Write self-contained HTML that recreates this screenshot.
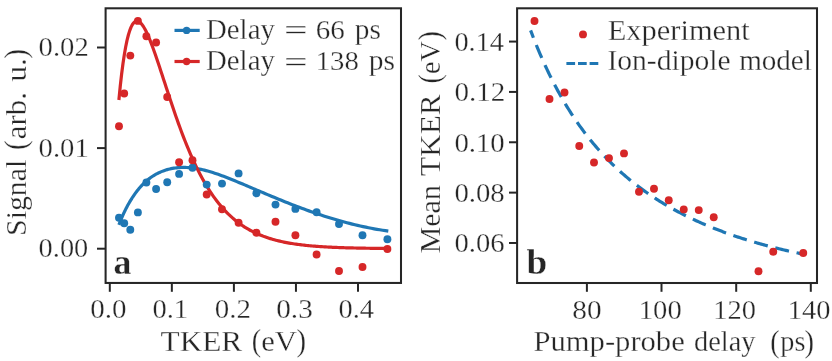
<!DOCTYPE html>
<html><head><meta charset="utf-8"><title>Figure</title>
<style>html,body{margin:0;padding:0;background:#fff}svg{display:block}text{font-family:"Liberation Serif",serif;fill:#262626;stroke:#fff;stroke-width:0.3px}</style>
</head><body>
<svg width="832" height="361" viewBox="0 0 832 361">
<rect width="832" height="361" fill="#ffffff"/>
<path d="M118.90,224.85 L119.43,223.46 L119.97,222.07 L120.52,220.68 L121.09,219.28 L121.68,217.89 L122.28,216.50 L122.89,215.12 L123.52,213.74 L124.17,212.36 L124.83,210.99 L125.50,209.62 L126.19,208.26 L126.89,206.91 L127.61,205.57 L128.35,204.24 L129.09,202.92 L129.86,201.61 L130.63,200.32 L131.43,199.04 L132.23,197.77 L133.05,196.52 L133.89,195.29 L134.74,194.08 L135.61,192.88 L136.49,191.70 L137.39,190.55 L138.30,189.41 L139.22,188.30 L140.16,187.21 L141.12,186.15 L142.09,185.11 L143.07,184.09 L144.07,183.11 L145.09,182.15 L146.11,181.22 L147.16,180.32 L148.22,179.45 L149.29,178.61 L150.38,177.80 L151.48,177.02 L152.60,176.27 L153.73,175.55 L154.88,174.86 L156.04,174.20 L157.22,173.58 L158.41,172.98 L159.61,172.41 L160.84,171.88 L162.07,171.37 L163.32,170.89 L164.59,170.45 L165.87,170.03 L167.16,169.65 L168.47,169.30 L169.80,168.97 L171.14,168.68 L172.49,168.42 L173.86,168.19 L175.24,167.99 L176.64,167.83 L178.06,167.69 L179.48,167.58 L180.93,167.51 L182.39,167.46 L183.86,167.45 L185.35,167.47 L186.85,167.52 L188.36,167.60 L189.90,167.72 L191.44,167.86 L193.00,168.03 L194.58,168.24 L196.17,168.48 L197.78,168.75 L199.40,169.05 L201.03,169.39 L202.68,169.75 L204.35,170.15 L206.03,170.58 L207.72,171.03 L209.43,171.52 L211.15,172.04 L212.89,172.58 L214.65,173.15 L216.41,173.74 L218.20,174.36 L219.99,175.00 L221.81,175.66 L223.63,176.34 L225.48,177.05 L227.33,177.77 L229.21,178.50 L231.09,179.26 L232.99,180.03 L234.91,180.81 L236.84,181.61 L238.79,182.41 L240.75,183.23 L242.72,184.06 L244.71,184.90 L246.72,185.75 L248.74,186.61 L250.77,187.47 L252.82,188.35 L254.88,189.22 L256.96,190.11 L259.06,191.00 L261.17,191.90 L263.29,192.80 L265.43,193.70 L267.58,194.61 L269.75,195.52 L271.93,196.43 L274.13,197.35 L276.34,198.27 L278.56,199.18 L280.81,200.10 L283.06,201.01 L285.33,201.93 L287.62,202.84 L289.92,203.75 L292.24,204.66 L294.57,205.56 L296.91,206.46 L299.27,207.35 L301.64,208.24 L304.03,209.12 L306.44,210.00 L308.86,210.87 L311.29,211.73 L313.74,212.59 L316.20,213.43 L318.68,214.27 L321.17,215.10 L323.68,215.92 L326.20,216.72 L328.74,217.52 L331.29,218.30 L333.86,219.07 L336.44,219.83 L339.04,220.58 L341.65,221.31 L344.27,222.03 L346.91,222.73 L349.57,223.42 L352.24,224.09 L354.93,224.74 L357.63,225.38 L360.34,226.00 L363.07,226.60 L365.81,227.18 L368.57,227.74 L371.35,228.29 L374.14,228.81 L376.94,229.31 L379.76,229.79 L382.59,230.25 L385.44,230.68 L388.30,231.10" fill="none" stroke="#1f77b4" stroke-width="3.2" stroke-linejoin="round"/>
<path d="M118.90,99.97 L120.25,86.24 L121.60,74.21 L122.96,63.73 L124.31,54.68 L125.66,46.95 L127.01,40.43 L128.37,35.01 L129.72,30.61 L131.07,27.14 L132.42,24.52 L133.77,22.68 L135.13,21.54 L136.48,21.04 L137.83,21.13 L139.18,21.74 L140.54,22.83 L141.89,24.34 L143.24,26.24 L144.59,28.48 L145.95,31.02 L147.30,33.84 L148.65,36.89 L150.00,40.15 L151.35,43.60 L152.71,47.20 L154.06,50.93 L155.41,54.77 L156.76,58.70 L158.12,62.71 L159.47,66.77 L160.82,70.88 L162.17,75.02 L163.52,79.17 L164.88,83.32 L166.23,87.48 L167.58,91.61 L168.93,95.73 L170.29,99.81 L171.64,103.86 L172.99,107.86 L174.34,111.82 L175.69,115.72 L177.05,119.57 L178.40,123.35 L179.75,127.07 L181.10,130.73 L182.46,134.31 L183.81,137.83 L185.16,141.27 L186.51,144.64 L187.87,147.94 L189.22,151.15 L190.57,154.30 L191.92,157.37 L193.27,160.36 L194.63,163.27 L195.98,166.12 L197.33,168.88 L198.68,171.57 L200.04,174.19 L201.39,176.74 L202.74,179.21 L204.09,181.61 L205.44,183.94 L206.80,186.21 L208.15,188.40 L209.50,190.54 L210.85,192.60 L212.21,194.60 L213.56,196.54 L214.91,198.42 L216.26,200.24 L217.62,202.00 L218.97,203.70 L220.32,205.35 L221.67,206.94 L223.02,208.48 L224.38,209.97 L225.73,211.41 L227.08,212.80 L228.43,214.15 L229.79,215.45 L231.14,216.70 L232.49,217.91 L233.84,219.07 L235.19,220.20 L236.55,221.29 L237.90,222.34 L239.25,223.35 L240.60,224.32 L241.96,225.26 L243.31,226.17 L244.66,227.04 L246.01,227.88 L247.36,228.69 L248.72,229.48 L250.07,230.23 L251.42,230.95 L252.77,231.65 L254.13,232.32 L255.48,232.97 L256.83,233.59 L258.18,234.19 L259.54,234.77 L260.89,235.32 L262.24,235.85 L263.59,236.37 L264.94,236.86 L266.30,237.33 L267.65,237.79 L269.00,238.23 L270.35,238.65 L271.71,239.06 L273.06,239.45 L274.41,239.82 L275.76,240.18 L277.11,240.53 L278.47,240.86 L279.82,241.18 L281.17,241.49 L282.52,241.78 L283.88,242.07 L285.23,242.34 L286.58,242.60 L287.93,242.85 L289.28,243.09 L290.64,243.32 L291.99,243.54 L293.34,243.76 L294.69,243.96 L296.05,244.16 L297.40,244.35 L298.75,244.53 L300.10,244.70 L301.46,244.87 L302.81,245.03 L304.16,245.18 L305.51,245.33 L306.86,245.47 L308.22,245.60 L309.57,245.73 L310.92,245.86 L312.27,245.98 L313.63,246.09 L314.98,246.20 L316.33,246.31 L317.68,246.41 L319.03,246.50 L320.39,246.60 L321.74,246.69 L323.09,246.77 L324.44,246.85 L325.80,246.93 L327.15,247.01 L328.50,247.08 L329.85,247.15 L331.21,247.21 L332.56,247.28 L333.91,247.34 L335.26,247.39 L336.61,247.45 L337.97,247.50 L339.32,247.55 L340.67,247.60 L342.02,247.65 L343.38,247.70 L344.73,247.74 L346.08,247.78 L347.43,247.82 L348.78,247.86 L350.14,247.89 L351.49,247.93 L352.84,247.96 L354.19,247.99 L355.55,248.02 L356.90,248.05 L358.25,248.08 L359.60,248.11 L360.95,248.13 L362.31,248.16 L363.66,248.18 L365.01,248.20 L366.36,248.23 L367.72,248.25 L369.07,248.27 L370.42,248.28 L371.77,248.30 L373.13,248.32 L374.48,248.34 L375.83,248.35 L377.18,248.37 L378.53,248.38 L379.89,248.40 L381.24,248.41 L382.59,248.42 L383.94,248.43 L385.30,248.45 L386.65,248.46 L388.00,248.47" fill="none" stroke="#d62728" stroke-width="3.2" stroke-linejoin="round"/>
<circle cx="119" cy="217.70" r="3.95" fill="#1f77b4"/>
<circle cx="124.2" cy="223.30" r="3.95" fill="#1f77b4"/>
<circle cx="130.3" cy="229.80" r="3.95" fill="#1f77b4"/>
<circle cx="137.9" cy="212.40" r="3.95" fill="#1f77b4"/>
<circle cx="146.4" cy="182.50" r="3.95" fill="#1f77b4"/>
<circle cx="156.1" cy="189.05" r="3.95" fill="#1f77b4"/>
<circle cx="167.2" cy="182.30" r="3.95" fill="#1f77b4"/>
<circle cx="179.1" cy="173.90" r="3.95" fill="#1f77b4"/>
<circle cx="192.5" cy="167.80" r="3.95" fill="#1f77b4"/>
<circle cx="206.7" cy="184.60" r="3.95" fill="#1f77b4"/>
<circle cx="222" cy="183.60" r="3.95" fill="#1f77b4"/>
<circle cx="238.6" cy="173.40" r="3.95" fill="#1f77b4"/>
<circle cx="256.4" cy="193.30" r="3.95" fill="#1f77b4"/>
<circle cx="275.5" cy="204.60" r="3.95" fill="#1f77b4"/>
<circle cx="295.4" cy="208.90" r="3.95" fill="#1f77b4"/>
<circle cx="316.6" cy="212.30" r="3.95" fill="#1f77b4"/>
<circle cx="339" cy="224.00" r="3.95" fill="#1f77b4"/>
<circle cx="362.5" cy="235.30" r="3.95" fill="#1f77b4"/>
<circle cx="387.4" cy="239.30" r="3.95" fill="#1f77b4"/>
<circle cx="119" cy="126.30" r="3.95" fill="#d62728"/>
<circle cx="124.2" cy="93.50" r="3.95" fill="#d62728"/>
<circle cx="130.3" cy="55.60" r="3.95" fill="#d62728"/>
<circle cx="137.9" cy="20.90" r="3.95" fill="#d62728"/>
<circle cx="146.4" cy="36.20" r="3.95" fill="#d62728"/>
<circle cx="156.1" cy="42.50" r="3.95" fill="#d62728"/>
<circle cx="167.2" cy="97.00" r="3.95" fill="#d62728"/>
<circle cx="179.1" cy="162.30" r="3.95" fill="#d62728"/>
<circle cx="192.5" cy="160.30" r="3.95" fill="#d62728"/>
<circle cx="206.7" cy="194.55" r="3.95" fill="#d62728"/>
<circle cx="222" cy="209.30" r="3.95" fill="#d62728"/>
<circle cx="238.6" cy="222.80" r="3.95" fill="#d62728"/>
<circle cx="256.4" cy="232.70" r="3.95" fill="#d62728"/>
<circle cx="275.5" cy="221.80" r="3.95" fill="#d62728"/>
<circle cx="295.4" cy="235.30" r="3.95" fill="#d62728"/>
<circle cx="316.6" cy="254.55" r="3.95" fill="#d62728"/>
<circle cx="339" cy="271.05" r="3.95" fill="#d62728"/>
<circle cx="362.5" cy="267.05" r="3.95" fill="#d62728"/>
<circle cx="387.4" cy="249.05" r="3.95" fill="#d62728"/>
<rect x="105.6" y="8.3" width="295.40" height="274.65" fill="none" stroke="#262626" stroke-width="2.05"/>
<line x1="109.8" y1="282.95" x2="109.8" y2="291.8" stroke="#262626" stroke-width="2.0"/>
<line x1="171.85" y1="282.95" x2="171.85" y2="291.8" stroke="#262626" stroke-width="2.0"/>
<line x1="233.9" y1="282.95" x2="233.9" y2="291.8" stroke="#262626" stroke-width="2.0"/>
<line x1="295.95" y1="282.95" x2="295.95" y2="291.8" stroke="#262626" stroke-width="2.0"/>
<line x1="358.0" y1="282.95" x2="358.0" y2="291.8" stroke="#262626" stroke-width="2.0"/>
<line x1="105.6" y1="47.5" x2="97.0" y2="47.5" stroke="#262626" stroke-width="2.0"/>
<line x1="105.6" y1="148.1" x2="97.0" y2="148.1" stroke="#262626" stroke-width="2.0"/>
<line x1="105.6" y1="248.7" x2="97.0" y2="248.7" stroke="#262626" stroke-width="2.0"/>
<line x1="174.5" y1="30.4" x2="199.7" y2="30.4" stroke="#1f77b4" stroke-width="3.2"/>
<circle cx="186.6" cy="30.4" r="3.7" fill="#1f77b4"/>
<line x1="174.5" y1="61.5" x2="199.7" y2="61.5" stroke="#d62728" stroke-width="3.2"/>
<circle cx="186.6" cy="61.5" r="3.7" fill="#d62728"/>
<path d="M530.60,30.36 L531.96,33.94 L533.31,37.46 L534.67,40.91 L536.03,44.30 L537.38,47.62 L538.74,50.87 L540.10,54.07 L541.45,57.20 L542.81,60.28 L544.17,63.30 L545.52,66.26 L546.88,69.17 L548.24,72.02 L549.59,74.83 L550.95,77.58 L552.31,80.28 L553.67,82.94 L555.02,85.55 L556.38,88.11 L557.74,90.63 L559.09,93.10 L560.45,95.53 L561.81,97.92 L563.16,100.26 L564.52,102.57 L565.88,104.84 L567.23,107.07 L568.59,109.26 L569.95,111.42 L571.30,113.54 L572.66,115.62 L574.02,117.67 L575.37,119.69 L576.73,121.68 L578.09,123.63 L579.44,125.55 L580.80,127.44 L582.16,129.30 L583.51,131.14 L584.87,132.94 L586.23,134.71 L587.58,136.46 L588.94,138.18 L590.30,139.88 L591.66,141.55 L593.01,143.19 L594.37,144.81 L595.73,146.40 L597.08,147.97 L598.44,149.52 L599.80,151.05 L601.15,152.55 L602.51,154.03 L603.87,155.49 L605.22,156.93 L606.58,158.35 L607.94,159.74 L609.29,161.12 L610.65,162.48 L612.01,163.82 L613.36,165.14 L614.72,166.44 L616.08,167.73 L617.43,168.99 L618.79,170.24 L620.15,171.48 L621.50,172.69 L622.86,173.89 L624.22,175.07 L625.57,176.24 L626.93,177.39 L628.29,178.53 L629.65,179.65 L631.00,180.76 L632.36,181.85 L633.72,182.93 L635.07,184.00 L636.43,185.05 L637.79,186.09 L639.14,187.11 L640.50,188.13 L641.86,189.12 L643.21,190.11 L644.57,191.09 L645.93,192.05 L647.28,193.00 L648.64,193.94 L650.00,194.86 L651.35,195.78 L652.71,196.69 L654.07,197.58 L655.42,198.46 L656.78,199.33 L658.14,200.20 L659.49,201.05 L660.85,201.89 L662.21,202.72 L663.56,203.54 L664.92,204.36 L666.28,205.16 L667.64,205.95 L668.99,206.74 L670.35,207.51 L671.71,208.28 L673.06,209.04 L674.42,209.78 L675.78,210.52 L677.13,211.26 L678.49,211.98 L679.85,212.69 L681.20,213.40 L682.56,214.10 L683.92,214.79 L685.27,215.48 L686.63,216.15 L687.99,216.82 L689.34,217.48 L690.70,218.14 L692.06,218.78 L693.41,219.42 L694.77,220.06 L696.13,220.68 L697.48,221.30 L698.84,221.91 L700.20,222.52 L701.55,223.12 L702.91,223.71 L704.27,224.30 L705.63,224.88 L706.98,225.45 L708.34,226.02 L709.70,226.58 L711.05,227.13 L712.41,227.68 L713.77,228.23 L715.12,228.77 L716.48,229.30 L717.84,229.83 L719.19,230.35 L720.55,230.86 L721.91,231.37 L723.26,231.88 L724.62,232.38 L725.98,232.88 L727.33,233.37 L728.69,233.85 L730.05,234.33 L731.40,234.80 L732.76,235.27 L734.12,235.74 L735.47,236.20 L736.83,236.66 L738.19,237.11 L739.54,237.55 L740.90,237.99 L742.26,238.43 L743.62,238.87 L744.97,239.29 L746.33,239.72 L747.69,240.14 L749.04,240.55 L750.40,240.97 L751.76,241.37 L753.11,241.78 L754.47,242.18 L755.83,242.57 L757.18,242.96 L758.54,243.35 L759.90,243.73 L761.25,244.11 L762.61,244.49 L763.97,244.86 L765.32,245.23 L766.68,245.59 L768.04,245.96 L769.39,246.31 L770.75,246.67 L772.11,247.02 L773.46,247.37 L774.82,247.71 L776.18,248.05 L777.53,248.39 L778.89,248.72 L780.25,249.05 L781.61,249.38 L782.96,249.70 L784.32,250.02 L785.68,250.34 L787.03,250.66 L788.39,250.97 L789.75,251.28 L791.10,251.58 L792.46,251.88 L793.82,252.18 L795.17,252.48 L796.53,252.77 L797.89,253.06 L799.24,253.35 L800.60,253.64" fill="none" stroke="#1f77b4" stroke-width="3.2" stroke-dasharray="14.1 7.75" stroke-dashoffset="6.15"/>
<circle cx="534.5" cy="21" r="3.95" fill="#d62728"/>
<circle cx="549.5" cy="99" r="3.95" fill="#d62728"/>
<circle cx="564.5" cy="92.5" r="3.95" fill="#d62728"/>
<circle cx="579.25" cy="146" r="3.95" fill="#d62728"/>
<circle cx="594" cy="162.5" r="3.95" fill="#d62728"/>
<circle cx="609" cy="158.1" r="3.95" fill="#d62728"/>
<circle cx="624" cy="153.4" r="3.95" fill="#d62728"/>
<circle cx="639" cy="191.75" r="3.95" fill="#d62728"/>
<circle cx="654" cy="188.75" r="3.95" fill="#d62728"/>
<circle cx="668.75" cy="200.2" r="3.95" fill="#d62728"/>
<circle cx="683.75" cy="209.4" r="3.95" fill="#d62728"/>
<circle cx="698.75" cy="210.1" r="3.95" fill="#d62728"/>
<circle cx="713.75" cy="217.25" r="3.95" fill="#d62728"/>
<circle cx="758.5" cy="271.25" r="3.95" fill="#d62728"/>
<circle cx="773.25" cy="251.75" r="3.95" fill="#d62728"/>
<circle cx="803.25" cy="253" r="3.95" fill="#d62728"/>
<rect x="517.1" y="8.3" width="299.90" height="274.70" fill="none" stroke="#262626" stroke-width="2.05"/>
<line x1="586.9" y1="283.0" x2="586.9" y2="291.8" stroke="#262626" stroke-width="2.0"/>
<line x1="661.5" y1="283.0" x2="661.5" y2="291.8" stroke="#262626" stroke-width="2.0"/>
<line x1="736.2" y1="283.0" x2="736.2" y2="291.8" stroke="#262626" stroke-width="2.0"/>
<line x1="810.8" y1="283.0" x2="810.8" y2="291.8" stroke="#262626" stroke-width="2.0"/>
<line x1="517.1" y1="41.57" x2="509.0" y2="41.57" stroke="#262626" stroke-width="2.0"/>
<line x1="517.1" y1="91.92" x2="509.0" y2="91.92" stroke="#262626" stroke-width="2.0"/>
<line x1="517.1" y1="142.27" x2="509.0" y2="142.27" stroke="#262626" stroke-width="2.0"/>
<line x1="517.1" y1="192.62" x2="509.0" y2="192.62" stroke="#262626" stroke-width="2.0"/>
<line x1="517.1" y1="242.97" x2="509.0" y2="242.97" stroke="#262626" stroke-width="2.0"/>
<circle cx="583" cy="34.4" r="3.95" fill="#d62728"/>
<line x1="566.4" y1="63.5" x2="599.1" y2="63.5" stroke="#1f77b4" stroke-width="3.2" stroke-dasharray="8.7 2.9"/>
<text x="90.35" y="317.80" font-size="28.2" textLength="36.30" lengthAdjust="spacingAndGlyphs">0.0</text>
<text x="152.48" y="317.80" font-size="28.2" textLength="35.66" lengthAdjust="spacingAndGlyphs">0.1</text>
<text x="214.82" y="317.80" font-size="28.2" textLength="36.18" lengthAdjust="spacingAndGlyphs">0.2</text>
<text x="276.21" y="317.80" font-size="28.2" textLength="36.54" lengthAdjust="spacingAndGlyphs">0.3</text>
<text x="338.49" y="317.80" font-size="28.2" textLength="35.47" lengthAdjust="spacingAndGlyphs">0.4</text>
<text x="38.62" y="56.10" font-size="28.2" textLength="50.16" lengthAdjust="spacingAndGlyphs">0.02</text>
<text x="38.62" y="156.70" font-size="28.2" textLength="50.17" lengthAdjust="spacingAndGlyphs">0.01</text>
<text x="38.63" y="257.30" font-size="28.2" textLength="49.63" lengthAdjust="spacingAndGlyphs">0.00</text>
<text x="160.50" y="350.60" font-size="28.6" textLength="81.75" lengthAdjust="spacingAndGlyphs">TKER</text>
<text x="251.68" y="351.10" font-size="31.2" textLength="9.36" lengthAdjust="spacingAndGlyphs">(</text>
<text x="261.26" y="350.60" font-size="28.6" textLength="35.65" lengthAdjust="spacingAndGlyphs">eV</text>
<text x="296.54" y="351.10" font-size="31.2" textLength="9.53" lengthAdjust="spacingAndGlyphs">)</text>
<text x="25.60" y="235.92" font-size="28.6" textLength="76.18" lengthAdjust="spacingAndGlyphs" transform="rotate(-90 25.60 235.92)">Signal</text>
<text x="26.10" y="149.91" font-size="31.2" textLength="9.57" lengthAdjust="spacingAndGlyphs" transform="rotate(-90 26.10 149.91)">(</text>
<text x="25.60" y="139.29" font-size="28.6" textLength="47.22" lengthAdjust="spacingAndGlyphs" transform="rotate(-90 25.60 139.29)">arb.</text>
<text x="25.60" y="81.82" font-size="28.6" textLength="23.65" lengthAdjust="spacingAndGlyphs" transform="rotate(-90 25.60 81.82)">u.</text>
<text x="26.10" y="58.79" font-size="31.2" textLength="9.91" lengthAdjust="spacingAndGlyphs" transform="rotate(-90 26.10 58.79)">)</text>
<text x="206.01" y="39.00" font-size="28.6" textLength="68.85" lengthAdjust="spacingAndGlyphs">Delay</text>
<text x="284.07" y="40.30" font-size="28.6" textLength="23.66" lengthAdjust="spacingAndGlyphs">=</text>
<text x="315.73" y="39.00" font-size="28.2" textLength="29.03" lengthAdjust="spacingAndGlyphs">66</text>
<text x="354.74" y="39.00" font-size="28.6" textLength="26.12" lengthAdjust="spacingAndGlyphs">ps</text>
<text x="206.01" y="70.30" font-size="28.6" textLength="68.85" lengthAdjust="spacingAndGlyphs">Delay</text>
<text x="284.07" y="71.60" font-size="28.6" textLength="23.66" lengthAdjust="spacingAndGlyphs">=</text>
<text x="315.68" y="70.30" font-size="28.2" textLength="43.12" lengthAdjust="spacingAndGlyphs">138</text>
<text x="368.74" y="70.30" font-size="28.6" textLength="26.26" lengthAdjust="spacingAndGlyphs">ps</text>
<text x="113.49" y="274.00" font-size="35.2" textLength="17.88" lengthAdjust="spacingAndGlyphs" font-weight="bold">a</text>
<text x="572.29" y="319.00" font-size="28.2" textLength="29.32" lengthAdjust="spacingAndGlyphs">80</text>
<text x="638.78" y="319.00" font-size="28.2" textLength="42.92" lengthAdjust="spacingAndGlyphs">100</text>
<text x="713.39" y="319.00" font-size="28.2" textLength="42.71" lengthAdjust="spacingAndGlyphs">120</text>
<text x="787.89" y="319.00" font-size="28.2" textLength="42.66" lengthAdjust="spacingAndGlyphs">140</text>
<text x="454.45" y="50.87" font-size="28.2" textLength="49.55" lengthAdjust="spacingAndGlyphs">0.14</text>
<text x="454.42" y="101.22" font-size="28.2" textLength="50.86" lengthAdjust="spacingAndGlyphs">0.12</text>
<text x="454.43" y="151.57" font-size="28.2" textLength="50.33" lengthAdjust="spacingAndGlyphs">0.10</text>
<text x="454.43" y="201.92" font-size="28.2" textLength="50.33" lengthAdjust="spacingAndGlyphs">0.08</text>
<text x="454.44" y="252.27" font-size="28.2" textLength="50.06" lengthAdjust="spacingAndGlyphs">0.06</text>
<text x="533.50" y="351.00" font-size="28.6" textLength="151.25" lengthAdjust="spacingAndGlyphs">Pump-probe</text>
<text x="694.01" y="351.00" font-size="28.6" textLength="61.50" lengthAdjust="spacingAndGlyphs">delay</text>
<text x="770.18" y="351.50" font-size="31.2" textLength="9.36" lengthAdjust="spacingAndGlyphs">(</text>
<text x="780.30" y="351.00" font-size="28.6" textLength="25.15" lengthAdjust="spacingAndGlyphs">ps</text>
<text x="804.62" y="351.50" font-size="31.2" textLength="9.50" lengthAdjust="spacingAndGlyphs">)</text>
<text x="439.80" y="253.30" font-size="28.6" textLength="68.20" lengthAdjust="spacingAndGlyphs" transform="rotate(-90 439.80 253.30)">Mean</text>
<text x="439.80" y="176.05" font-size="28.6" textLength="81.80" lengthAdjust="spacingAndGlyphs" transform="rotate(-90 439.80 176.05)">TKER</text>
<text x="440.30" y="83.50" font-size="31.2" textLength="9.35" lengthAdjust="spacingAndGlyphs" transform="rotate(-90 440.30 83.50)">(</text>
<text x="439.80" y="74.05" font-size="28.6" textLength="32.96" lengthAdjust="spacingAndGlyphs" transform="rotate(-90 439.80 74.05)">eV</text>
<text x="440.30" y="40.55" font-size="31.2" textLength="9.49" lengthAdjust="spacingAndGlyphs" transform="rotate(-90 440.30 40.55)">)</text>
<text x="607.75" y="39.50" font-size="28.6" textLength="142.00" lengthAdjust="spacingAndGlyphs">Experiment</text>
<text x="607.49" y="70.00" font-size="28.6" textLength="123.01" lengthAdjust="spacingAndGlyphs">Ion-dipole</text>
<text x="739.15" y="70.00" font-size="28.6" textLength="72.70" lengthAdjust="spacingAndGlyphs">model</text>
<text x="526.48" y="274.20" font-size="36.5" textLength="20.70" lengthAdjust="spacingAndGlyphs" font-weight="bold">b</text>
</svg>
</body></html>
